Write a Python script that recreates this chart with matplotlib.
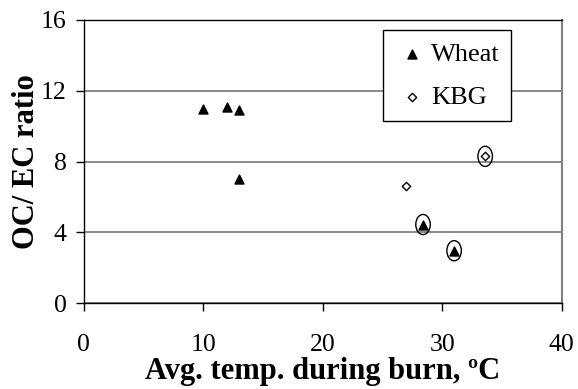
import matplotlib.pyplot as plt
from matplotlib.path import Path
from matplotlib.transforms import Affine2D

plt.rcParams['font.family'] = ['Liberation Serif', 'DejaVu Serif']
plt.rcParams['xtick.labelsize'] = 18.5
plt.rcParams['ytick.labelsize'] = 18.5

# data
wheat_x = [10, 12, 13, 13, 28.4, 31.0]
wheat_y = [11.0, 11.1, 10.9, 7.0, 4.45, 2.97]
kbg_x = [27.0, 33.6]
kbg_y = [6.65, 8.3]
# circled points
circ_x = [28.4, 31.0, 33.6]
circ_y = [4.45, 2.97, 8.3]

xticks = [0, 10, 20, 30, 40]
yticks = [0, 4, 8, 12, 16]

fig = plt.figure(figsize=(5.78, 3.89), dpi=100)
ax = fig.add_axes([0.1445, 0.2203, 0.8273, 0.7283])

ax.scatter(wheat_x, wheat_y, marker='^', s=42, c='black', label='Wheat', zorder=3)
ax.scatter(kbg_x, kbg_y, marker='D', s=18, facecolors='white', edgecolors='black',
           linewidths=1, label='KBG', zorder=3)

# tall ellipse marker for the circled points
ell = Path.unit_circle().transformed(Affine2D().scale(0.72, 1.0))
ax.scatter(circ_x, circ_y, marker=ell, s=210, facecolors='none', edgecolors='black',
           linewidths=1, zorder=4)

ax.set_xlim(0, 40)
ax.set_ylim(0, 16)
ax.set_xticks(xticks)
ax.set_yticks(yticks)
ax.yaxis.grid(True, color='#808080', linewidth=1.3)
ax.set_axisbelow(True)

for s in ['left', 'bottom', 'top']:
    ax.spines[s].set_color('black')
    ax.spines[s].set_linewidth(1)
ax.spines['right'].set_color('#808080')
ax.spines['right'].set_linewidth(1.5)

ax.tick_params(axis='both', direction='out', length=6, width=1, color='black')
ax.tick_params(axis='y', pad=6)
ax.tick_params(axis='x', pad=16)

ax.set_xlabel('Avg. temp. during burn, ºC', fontsize=22, fontweight='bold', labelpad=1)
ax.set_ylabel('OC/ EC ratio', fontsize=22, fontweight='bold', labelpad=0)

leg = ax.legend(loc='upper left', bbox_to_anchor=(0.627, 0.964), borderaxespad=0,
                fontsize=19, frameon=True, fancybox=False, edgecolor='black',
                framealpha=1, handletextpad=0.05, labelspacing=0.75, borderpad=0.45,
                handlelength=1.3)
leg.get_frame().set_linewidth(1)

fig.savefig('out.png', dpi=100)
